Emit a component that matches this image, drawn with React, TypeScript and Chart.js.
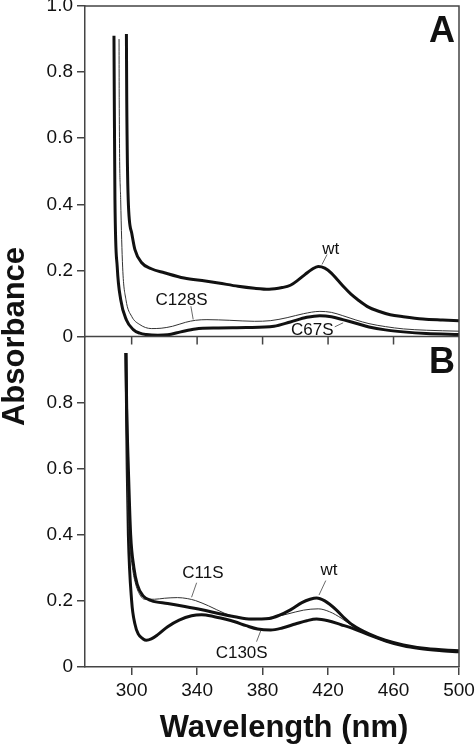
import React, { useEffect, useRef } from "react";
import { Chart, registerables } from "chart.js";

Chart.register(...registerables);

// ---------- axes ----------
const X_MIN = 271.5;
const X_MAX = 500;
const X_TICKS = [300, 340, 380, 420, 460, 500];
const Y_TICKS_A = [0, 0.2, 0.4, 0.6, 0.8, 1.0];
const Y_TICKS_B = [0, 0.2, 0.4, 0.6, 0.8];

// ---------- panel A ----------
const A_WT_NM = [296.8, 297.0, 297.9, 300, 302, 306, 312, 320, 332, 345, 353, 365, 375, 384, 392, 397, 402, 406, 410, 414, 418, 422, 426, 430, 434, 438, 445, 450, 458, 466, 478, 490, 500];
const A_WT_ABS = [0.915, 0.72, 0.414, 0.314, 0.263, 0.224, 0.205, 0.193, 0.177, 0.168, 0.162, 0.152, 0.146, 0.143, 0.148, 0.155, 0.172, 0.188, 0.203, 0.212, 0.207, 0.192, 0.17, 0.148, 0.128, 0.112, 0.088, 0.078, 0.066, 0.06, 0.053, 0.05, 0.048];

const A_C128S_NM = [292.3, 292.4, 293.3, 294.5, 296.5, 300, 305, 312, 318, 325, 333, 339, 346, 360, 375, 385, 395, 405, 415, 422, 429, 437, 445, 455, 466, 480, 500];
const A_C128S_ABS = [0.9, 0.716, 0.414, 0.21, 0.112, 0.061, 0.036, 0.024, 0.025, 0.031, 0.043, 0.049, 0.051, 0.049, 0.046, 0.048, 0.057, 0.069, 0.076, 0.073, 0.063, 0.05, 0.039, 0.03, 0.023, 0.019, 0.016];

const A_C67S_NM = [289.2, 289.4, 289.8, 291.2, 293.3, 296.8, 301, 305, 309, 316, 322, 330, 339, 353, 370, 387, 397, 407, 415, 422, 429, 437, 445, 455, 466, 480, 500];
const A_C67S_ABS = [0.91, 0.716, 0.414, 0.21, 0.112, 0.05, 0.021, 0.01, 0.006, 0.004, 0.005, 0.014, 0.023, 0.026, 0.027, 0.031, 0.044, 0.058, 0.063, 0.06, 0.051, 0.04, 0.029, 0.02, 0.014, 0.009, 0.006];

// ---------- panel B ----------
const B_WT_NM = [296.5, 297, 298, 299.4, 301.4, 303.4, 307, 312, 322, 332.5, 343, 353, 363, 373, 384, 390, 397, 404, 409, 413, 418, 425, 430, 435, 445, 455, 466, 480, 500];
const B_WT_ABS = [0.95, 0.78, 0.6, 0.4, 0.3, 0.25, 0.215, 0.201, 0.192, 0.183, 0.173, 0.162, 0.152, 0.145, 0.147, 0.156, 0.173, 0.195, 0.205, 0.209, 0.2, 0.173, 0.148, 0.127, 0.1, 0.081, 0.067, 0.056, 0.049];

const B_C11S_NM = [296.5, 297.2, 298.5, 300.5, 302.5, 305.5, 308, 314, 320, 328, 334, 339, 347, 357, 365, 373, 384, 395, 405, 414, 421, 428, 435, 445, 455, 466, 480, 500];
const B_C11S_ABS = [0.95, 0.6, 0.4, 0.3, 0.25, 0.215, 0.205, 0.205, 0.208, 0.21, 0.207, 0.201, 0.185, 0.162, 0.15, 0.143, 0.148, 0.16, 0.172, 0.176, 0.167, 0.148, 0.124, 0.098, 0.08, 0.066, 0.055, 0.048];

const B_C130S_NM = [296.5, 297.3, 298, 300, 302, 304, 307, 309, 312, 316, 322, 329, 336.6, 342.7, 350, 357, 363, 370, 377, 385, 392, 400, 407, 413, 420, 428, 435, 445, 455.7, 466, 476, 488, 500];
const B_C130S_ABS = [0.95, 0.6, 0.4, 0.2, 0.13, 0.1, 0.085, 0.081, 0.085, 0.098, 0.122, 0.142, 0.155, 0.158, 0.153, 0.145, 0.137, 0.125, 0.115, 0.112, 0.118, 0.13, 0.14, 0.145, 0.14, 0.128, 0.117, 0.097, 0.078, 0.064, 0.056, 0.05, 0.046];

// ---------- annotations (data units) ----------
const LABEL_TEXT = ["wt", "C128S", "C67S", "C11S", "C130S", "wt"];
const LABEL_PANEL = ["A", "A", "A", "B", "B", "B"];
const LABEL_NM = [421.6, 330.5, 410.4, 343.5, 367.2, 420.5];
const LABEL_ABS = [0.251, 0.0967, 0.006, 0.269, 0.026, 0.279];
const LEADER_FROM = [[419.4, 0.248], [336.2, 0.0915], [424.1, 0.0293], [339.7, 0.255], [376.3, 0.0767], [418.6, 0.2615]];
const LEADER_TO = [[416.3, 0.218], [337.6, 0.0514], [429.2, 0.0414], [336.6, 0.211], [378.9, 0.11], [414.5, 0.218]];

const PANEL_LETTERS = ["A", "B"];
const Y_TITLE = "Absorbance";
const X_TITLE = "Wavelength (nm)";

const FONT = "'Liberation Sans', Arial, Helvetica, sans-serif";
const AXIS_COLOR = "#444";
const INK = "#111";

function pts(xs: number[], ys: number[]) {
  return xs.map((x, i) => ({ x, y: ys[i] }));
}

function ds(label: string, xs: number[], ys: number[], yAxisID: string, thick: boolean) {
  return {
    label,
    data: pts(xs, ys),
    yAxisID,
    borderColor: thick ? INK : "#333",
    borderWidth: thick ? 3 : 1,
    pointRadius: 0,
    fill: false,
    cubicInterpolationMode: "monotone" as const,
    borderJoinStyle: "round" as const,
    borderCapStyle: "butt" as const,
  };
}

const overlay = {
  id: "overlay",
  afterDraw(chart: any) {
    const { ctx, chartArea: ca, scales } = chart;
    const x = scales.x;
    const yA = scales.yA;
    const yB = scales.yB;
    ctx.save();
    // frame and middle separator with ticks
    ctx.strokeStyle = AXIS_COLOR;
    ctx.lineWidth = 1.5;
    ctx.beginPath();
    ctx.moveTo(ca.left, ca.top);
    ctx.lineTo(ca.right, ca.top);
    ctx.lineTo(ca.right, ca.bottom);
    ctx.moveTo(ca.left, yA.bottom);
    ctx.lineTo(ca.right, yA.bottom);
    for (const t of X_TICKS) {
      const px = x.getPixelForValue(t);
      ctx.moveTo(px, yA.bottom);
      ctx.lineTo(px, yA.bottom + 8);
    }
    ctx.stroke();

    // panel letters
    ctx.fillStyle = INK;
    ctx.font = `bold 36px ${FONT}`;
    ctx.textAlign = "right";
    ctx.textBaseline = "alphabetic";
    ctx.fillText(PANEL_LETTERS[0], ca.right - 4, yA.top + 36);
    ctx.fillText(PANEL_LETTERS[1], ca.right - 4, yB.top + 36);

    // annotations
    ctx.font = `17px ${FONT}`;
    ctx.textAlign = "center";
    for (let i = 0; i < LABEL_TEXT.length; i++) {
      const ys = LABEL_PANEL[i] === "A" ? yA : yB;
      ctx.fillStyle = INK;
      ctx.fillText(LABEL_TEXT[i], x.getPixelForValue(LABEL_NM[i]), ys.getPixelForValue(LABEL_ABS[i]));
      ctx.strokeStyle = "#444";
      ctx.lineWidth = 0.8;
      ctx.beginPath();
      ctx.moveTo(x.getPixelForValue(LEADER_FROM[i][0]), ys.getPixelForValue(LEADER_FROM[i][1]));
      ctx.lineTo(x.getPixelForValue(LEADER_TO[i][0]), ys.getPixelForValue(LEADER_TO[i][1]));
      ctx.stroke();
    }

    // axis titles
    ctx.fillStyle = INK;
    ctx.font = `bold 31px ${FONT}`;
    ctx.textAlign = "center";
    ctx.textBaseline = "alphabetic";
    ctx.fillText(X_TITLE, (ca.left + ca.right) / 2 + 12, ca.bottom + 70);
    ctx.translate(24, (ca.top + ca.bottom) / 2);
    ctx.rotate(-Math.PI / 2);
    ctx.fillText(Y_TITLE, 0, 0);
    ctx.restore();
  },
};

function yScale(ticks: number[], hideTop: boolean) {
  return {
    type: "linear" as const,
    position: "left" as const,
    stack: "panels",
    stackWeight: 1,
    min: 0,
    max: 1.0,
    afterBuildTicks: (s: any) => {
      s.ticks = ticks.map((v) => ({ value: v }));
    },
    afterFit: (s: any) => {
      s.width = 85;
      s.paddingTop = 0;
      s.paddingBottom = 0;
    },
    ticks: {
      color: INK,
      font: { family: FONT, size: 19 },
      padding: 4,
      callback: (v: any) => (v === 0 ? "0" : Number(v).toFixed(1)),
    },
    grid: {
      drawOnChartArea: false,
      tickLength: 8,
      color: AXIS_COLOR,
      lineWidth: 1.5,
    },
    border: { display: true, color: AXIS_COLOR, width: 1.5 },
  };
}

export default function App() {
  const ref = useRef<HTMLCanvasElement | null>(null);
  useEffect(() => {
    if (!ref.current) return;
    const chart = new Chart(ref.current, {
      type: "line",
      data: {
        datasets: [
          ds("wt (A)", A_WT_NM, A_WT_ABS, "yA", true),
          ds("C128S", A_C128S_NM, A_C128S_ABS, "yA", false),
          ds("C67S", A_C67S_NM, A_C67S_ABS, "yA", true),
          ds("wt (B)", B_WT_NM, B_WT_ABS, "yB", true),
          ds("C11S", B_C11S_NM, B_C11S_ABS, "yB", false),
          ds("C130S", B_C130S_NM, B_C130S_ABS, "yB", true),
        ],
      },
      options: {
        animation: false,
        responsive: true,
        maintainAspectRatio: false,
        layout: { padding: { left: 0, right: 16, top: 6, bottom: 0 } },
        plugins: { legend: { display: false }, tooltip: { enabled: false }, title: { display: false } },
        scales: {
          x: {
            type: "linear",
            position: "bottom",
            min: X_MIN,
            max: X_MAX,
            afterBuildTicks: (s: any) => {
              s.ticks = X_TICKS.map((v) => ({ value: v }));
            },
            afterFit: (s: any) => {
              s.height = 84;
              s.paddingLeft = 0;
              s.paddingRight = 0;
            },
            ticks: {
              color: INK,
              font: { family: FONT, size: 19 },
              padding: 4,
              maxRotation: 0,
              autoSkip: false,
              callback: (v: any) => String(v),
            },
            grid: { drawOnChartArea: false, tickLength: 8, color: AXIS_COLOR, lineWidth: 1.5 },
            border: { display: true, color: AXIS_COLOR, width: 1.5 },
          },
          yB: yScale(Y_TICKS_B, true),
          yA: yScale(Y_TICKS_A, false),
        } as any,
      },
      plugins: [overlay],
    } as any);
    return () => chart.destroy();
  }, []);
  return (
    <div style={{ position: "absolute", left: 0, top: 0, width: 475, height: 751, background: "#fff" }}>
      <canvas ref={ref} />
    </div>
  );
}
